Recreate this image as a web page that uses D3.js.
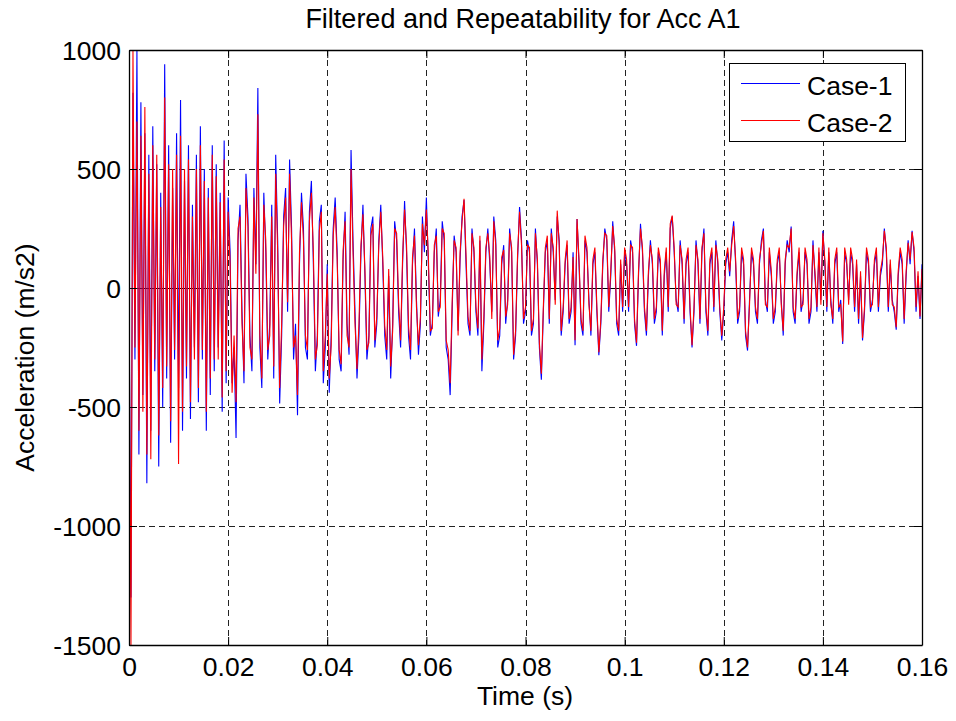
<!DOCTYPE html>
<html><head><meta charset="utf-8">
<script src="https://cdn.jsdelivr.net/npm/d3@7"></script>
<style>html,body{margin:0;padding:0;background:#fff;}svg{display:block;font-family:"Liberation Sans",Arial,sans-serif;}</style>
</head><body>
<svg id="chart" width="956" height="721"></svg>
<script>
const title = "Filtered and Repeatability for Acc A1";
const xLabel = "Time (s)";
const yLabel = "Acceleration (m/s2)";
const seriesNames = ["Case-1", "Case-2"];
const xTicks = [0, 0.02, 0.04, 0.06, 0.08, 0.1, 0.12, 0.14, 0.16];
const yTicks = [-1500, -1000, -500, 0, 500, 1000];
const sampleStep = 0.0004; // s between samples
const case1 = [
0,-1300,820,-300,1000,-700,780,-450,650,-820,560,-600,680,-350,520,-750,400,-500,940,-380,600,-650,420,-300,650,
-420,790,-600,450,-380,600,-550,350,-250,560,-480,680,-300,500,-600,420,-450,600,-350,520,-250,400,-520,620,-400,
380,150,-400,-250,-630,200,350,-100,-400,480,300,-200,-350,420,100,840,-250,-420,400,150,-300,-150,350,-380,560,
200,-485,-200,300,420,-100,540,250,-300,-150,-535,100,400,250,-250,-300,320,450,100,-350,-200,280,350,-400,-250,
100,-440,-200,250,380,150,-300,-350,120,320,-150,-280,580,200,-100,-380,-200,150,350,50,-300,-200,250,300,-250,
-150,200,350,100,-200,-300,50,-380,-150,280,200,-100,-250,100,365,150,-200,-300,100,250,-50,-280,-150,300,150,
380,100,-200,-150,150,250,-120,-50,280,200,-250,-300,-450,-100,220,150,-180,120,300,370,100,-150,-200,250,150,
-100,-200,200,-350,-150,150,250,100,-100,300,200,-250,-200,100,180,-150,-50,250,150,-300,-200,120,340,200,-150,
-100,200,150,-200,-150,250,100,-250,-385,-100,150,200,-150,250,150,-50,300,200,-200,-100,100,180,-150,-100,150,
-240,290,100,-150,-200,200,150,-50,-200,100,150,-100,-282,-150,100,250,200,-100,50,280,150,-150,-200,100,-100,
150,100,-100,200,150,-150,-243,50,270,150,-100,-200,50,200,100,-150,-100,150,100,-200,50,150,-100,250,300,
150,-50,-100,200,100,-150,100,150,-100,-250,-100,200,100,-150,150,250,-100,-200,100,150,-100,200,100,-100,-220,
-100,100,150,50,200,280,100,-150,-100,150,100,-200,-263,-50,150,100,-100,-150,100,200,250,-50,-100,150,50,
-150,-100,100,150,-50,-200,100,200,150,258,-100,-150,50,150,-100,-50,150,100,-150,-100,200,50,-100,150,-50,
240,100,-100,150,-50,-150,100,150,-100,-50,-235,150,100,-50,150,100,-100,100,-150,50,-220,-100,150,100,-100,
-50,100,150,-100,50,100,250,150,-100,100,-50,-100,-175,50,150,100,-150,50,200,100,240,150,-100,50,-130,
100];
const case2 = [
0,-1500,1000,-250,700,-600,640,-520,760,-700,480,-720,600,-300,560,-620,340,-420,800,-330,520,-560,500,-260,560,
-740,640,-520,500,-330,540,-480,300,-300,500,-420,600,-260,450,-520,380,-380,560,-300,470,-300,360,-460,540,-350,
320,100,-440,-200,-480,250,300,-150,-350,420,260,-250,-300,380,60,730,-200,-380,350,200,-260,-200,300,-330,480,
150,-420,-150,260,380,-60,480,200,-250,-200,-450,150,360,200,-200,-260,280,400,150,-300,-240,240,320,-350,-200,
60,-380,-240,220,340,120,-260,-320,160,280,-200,-250,500,150,-150,-340,-150,180,310,80,-260,-230,220,270,-220,
-120,180,320,130,-160,-260,80,-330,-180,250,230,-60,-220,130,330,180,-160,-260,130,220,-80,-240,-120,270,180,
330,130,-180,-170,180,220,-100,-80,250,230,-220,-260,-400,-60,200,170,-200,150,280,375,140,-120,-180,230,170,
-80,-170,220,-300,-120,170,230,130,-130,280,180,-220,-170,130,160,-120,-70,230,170,-280,-180,140,320,180,-130,
-80,180,170,-180,-130,230,120,-230,-360,-80,170,220,-130,230,170,-70,325,180,-180,-80,120,200,-130,-80,130,
-220,290,120,-130,-180,220,170,-70,-180,120,170,-80,-270,-130,120,230,220,-80,70,260,170,-130,-180,120,-80,
170,120,-80,180,170,-130,-230,70,250,170,-80,-180,70,180,120,-130,-80,170,120,-180,70,170,-80,270,304,
170,-70,-80,180,120,-130,120,170,-80,-240,-80,180,120,-130,170,230,-80,-180,120,170,-80,180,120,-80,-200,
-80,120,170,70,180,260,120,-130,-80,170,120,-180,-250,-70,170,120,-80,-130,120,180,240,-70,-80,170,70,
-130,-80,120,170,-70,-180,120,180,170,250,-80,-130,70,170,-80,-70,170,120,-130,-80,180,70,-80,170,-70,
230,120,-80,170,-70,-130,120,170,-80,-70,-225,170,120,-70,170,120,-80,120,-130,70,-210,-80,170,120,-80,
-70,120,170,-80,70,120,240,170,-80,120,-70,-80,-165,70,170,120,-130,70,190,120,235,170,-80,70,-120,
80];
const seriesColors = ["#0000ff", "#ff0000"];

const svg = d3.select("#chart");
const m = {left:129, top:50, right:922, bottom:645};
const x = d3.scaleLinear().domain([0, 0.16]).range([m.left, m.right]);
const y = d3.scaleLinear().domain([-1500, 1000]).range([m.bottom, m.top]);
const W = m.right - m.left, H = m.bottom - m.top;

svg.append("rect").attr("x", m.left).attr("y", m.top).attr("width", W).attr("height", H).attr("fill", "#fff");

// grid
const grid = svg.append("g").attr("stroke", "#222").attr("stroke-width", 1).attr("stroke-dasharray", "6,4").attr("shape-rendering", "crispEdges");
grid.selectAll(".gx").data(xTicks).join("line")
  .attr("x1", d => Math.round(x(d)) + 0.5).attr("x2", d => Math.round(x(d)) + 0.5)
  .attr("y1", m.top).attr("y2", m.bottom);
grid.selectAll(".gy").data(yTicks).join("line")
  .attr("x1", m.left).attr("x2", m.right)
  .attr("y1", d => Math.round(y(d)) + 0.5).attr("y2", d => Math.round(y(d)) + 0.5);

// zero line
svg.append("line").attr("x1", m.left).attr("x2", m.right)
  .attr("y1", Math.round(y(0)) + 0.5).attr("y2", Math.round(y(0)) + 0.5)
  .attr("stroke", "#000").attr("stroke-width", 1);

// data
const series = [case1, case2];
const line = d3.line().x((d, i) => x(i * sampleStep)).y(d => y(d));
const clipId = "plotclip";
svg.append("clipPath").attr("id", clipId).append("rect")
  .attr("x", m.left).attr("y", m.top - 1).attr("width", W).attr("height", H + 2);
svg.append("g").attr("clip-path", `url(#${clipId})`)
  .selectAll("path").data(series).join("path")
  .attr("d", d => line(d)).attr("fill", "none")
  .attr("stroke", (d, i) => seriesColors[i]).attr("stroke-width", 1.1)
  .attr("stroke-linejoin", "miter");

// axes (MATLAB-style box with inward ticks)
const fs = 26.5;
const fmt = d => String(d);
const axB = svg.append("g").attr("transform", `translate(0,${m.bottom})`)
  .call(d3.axisBottom(x).tickValues(xTicks).tickSizeInner(-8).tickSizeOuter(0).tickPadding(14).tickFormat(fmt));
const axT = svg.append("g").attr("transform", `translate(0,${m.top})`)
  .call(d3.axisTop(x).tickValues(xTicks).tickSizeInner(-8).tickSizeOuter(0).tickFormat(""));
const axL = svg.append("g").attr("transform", `translate(${m.left},0)`)
  .call(d3.axisLeft(y).tickValues(yTicks).tickSizeInner(-8).tickSizeOuter(0).tickPadding(10).tickFormat(fmt));
const axR = svg.append("g").attr("transform", `translate(${m.right},0)`)
  .call(d3.axisRight(y).tickValues(yTicks).tickSizeInner(-8).tickSizeOuter(0).tickFormat(""));
[axB, axT, axL, axR].forEach(a => {
  a.selectAll(".domain").attr("stroke", "#000").attr("stroke-width", 1.3);
  a.selectAll(".tick line").attr("stroke", "#000");
  a.selectAll("text").attr("font-size", fs).attr("font-family", "Liberation Sans, Arial, sans-serif").attr("fill", "#000");
});
axB.selectAll("text").attr("dy", "0.71em").attr("y", 12);
axL.selectAll("text").attr("x", -8).attr("dy", "0.36em");

// titles
svg.append("text").attr("x", 523).attr("y", 28).attr("text-anchor", "middle")
  .attr("font-size", 27).text(title);
svg.append("text").attr("x", 525).attr("y", 705).attr("text-anchor", "middle")
  .attr("font-size", fs).text(xLabel);
svg.append("text").attr("transform", `translate(34,${(m.top + m.bottom) / 2 + 10}) rotate(-90)`)
  .attr("text-anchor", "middle").attr("font-size", fs).text(yLabel);

// legend
const lg = svg.append("g");
lg.append("rect").attr("x", 729.5).attr("y", 63.5).attr("width", 176).attr("height", 78)
  .attr("fill", "#fff").attr("stroke", "#000").attr("stroke-width", 1);
seriesNames.forEach((name, i) => {
  const ly = 83 + i * 37;
  lg.append("line").attr("x1", 741).attr("x2", 800).attr("y1", ly + 0.5).attr("y2", ly + 0.5)
    .attr("stroke", seriesColors[i]).attr("stroke-width", 1);
  lg.append("text").attr("x", 807).attr("y", ly + 12).attr("font-size", fs).text(name);
});
</script>
</body></html>
